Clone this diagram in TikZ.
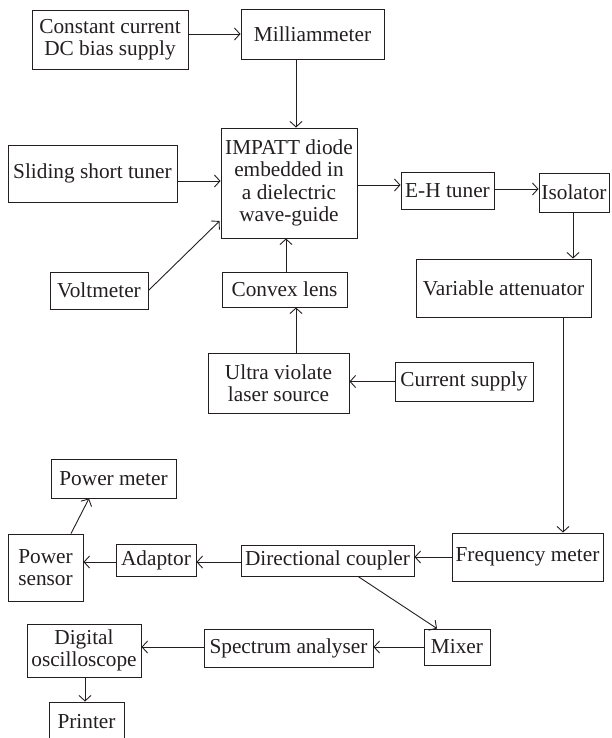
\documentclass[tikz,border=0pt]{standalone}
\usepackage{fontspec}
\setmainfont{Liberation Serif}
\usetikzlibrary{arrows.meta}
\definecolor{ink}{RGB}{35,31,32}
\begin{document}
\begin{tikzpicture}[x=1pt,y=-1pt,
  box/.style={draw=ink, line width=0.9pt, inner sep=0pt, align=center, text=ink,
    font=\fontsize{21.3}{22.3}\selectfont},
  arr/.style={draw=ink, line width=0.9pt, -{Straight Barb[length=5.5pt,width=12pt,line width=0.9pt]}}]
\useasboundingbox (0,0) rectangle (611,738);
\clip (0,0) rectangle (611,738);
% nodes
\node[box, minimum width=156pt, minimum height=59pt] (const) at (110,39.5) {Constant current\\DC bias supply};
\node[box, minimum width=143pt, minimum height=50pt] (milli) at (312.5,34) {Milliammeter};
\node[box, minimum width=136pt, minimum height=110pt] (impatt) at (289,183) {IMPATT diode\\embedded in\\a dielectric\\wave-guide};
\node[box, minimum width=169pt, minimum height=57pt] (sliding) at (92.5,173.5) {Sliding short tuner};
\node[box, minimum width=98pt, minimum height=37pt] (volt) at (99,290.5) {Voltmeter};
\node[box, minimum width=125pt, minimum height=35pt] (convex) at (284.5,289.5) {Convex lens};
\node[box, minimum width=141pt, minimum height=60pt] (ultra) at (278.5,383) {Ultra violate\\laser source};
\node[box, minimum width=138pt, minimum height=39pt] (current) at (464,381.5) {Current supply};
\node[box, minimum width=93pt, minimum height=37pt] (eh) at (447.5,190.5) {E-H tuner};
\node[box, minimum width=70pt, minimum height=39pt] (iso) at (574,192.5) {Isolator};
\node[box, minimum width=175pt, minimum height=58pt] (varatt) at (503.5,288) {Variable attenuator};
\node[box, minimum width=151pt, minimum height=48pt] (freq) at (527.5,557) {Frequency meter};
\node[box, minimum width=173pt, minimum height=31pt] (dircoup) at (327.5,560.5) {Directional coupler};
\node[box, minimum width=80pt, minimum height=32pt] (adaptor) at (156,560) {Adaptor};
\node[box, minimum width=75pt, minimum height=67pt] (psensor) at (45.5,567.5) {Power\\sensor};
\node[box, minimum width=125pt, minimum height=39pt] (pmeter) at (113.5,478.5) {Power meter};
\node[box, minimum width=66pt, minimum height=36pt] (mixer) at (457,647) {Mixer};
\node[box, minimum width=169pt, minimum height=38pt] (spectrum) at (288.5,648) {Spectrum analyser};
\node[box, minimum width=114pt, minimum height=53pt] (digital) at (84,650.5) {Digital\\oscilloscope};
\node[box, minimum width=75pt, minimum height=40pt] (printer) at (86.5,722) {Printer};
% connectors
\draw[arr] (const.east |- milli.west) -- (milli.west);
\draw[arr] ([xshift=-16.5pt]milli.south) -- ([xshift=7pt]impatt.north);
\draw[arr] ([yshift=-7.5pt]sliding.east) -- ([yshift=-7.5pt]sliding.east -| impatt.west);
\draw[arr] (volt.east) -- ([yshift=-38pt,xshift=-1pt]impatt.west);
\draw[arr] ([xshift=1.5pt]convex.north) -- ([xshift=1.5pt]convex.north |- impatt.south);
\draw[arr] ([xshift=17.5pt]ultra.north) -- ([xshift=17.5pt]ultra.north |- convex.south);
\draw[arr] (current.west) -- (current.west -| ultra.east);
\draw[arr] ([yshift=-2pt]impatt.east) -- ([yshift=-2pt]impatt.east -| eh.west);
\draw[arr] ([yshift=1.5pt]eh.east) -- ([yshift=1.5pt]eh.east -| iso.west);
\draw[arr] ([xshift=-1pt]iso.south) -- ([xshift=-1pt]iso.south |- varatt.north);
\draw[arr] ([xshift=59.5pt]varatt.south) -- ([xshift=59.5pt]varatt.south |- freq.north);
\draw[arr] (freq.west) -- (freq.west -| dircoup.east);
\draw[arr] ([yshift=-1.5pt]dircoup.west) -- ([yshift=-1.5pt]dircoup.west -| adaptor.east);
\draw[arr] ([yshift=-2pt]adaptor.west) -- ([yshift=-2pt]adaptor.west -| psensor.east);
\draw[arr] ([xshift=25.5pt]psensor.north) -- ([xshift=-24.5pt]pmeter.south);
\draw[arr] ([xshift=30.5pt]dircoup.south) -- ([xshift=-20pt]mixer.north);
\draw[arr] (mixer.west) -- (mixer.west -| spectrum.east);
\draw[arr] ([yshift=1pt]spectrum.west) -- ([yshift=1pt]spectrum.west -| digital.east);
\draw[arr] ([xshift=1pt]digital.south) -- ([xshift=1pt]digital.south |- printer.north);
\end{tikzpicture}
\end{document}
